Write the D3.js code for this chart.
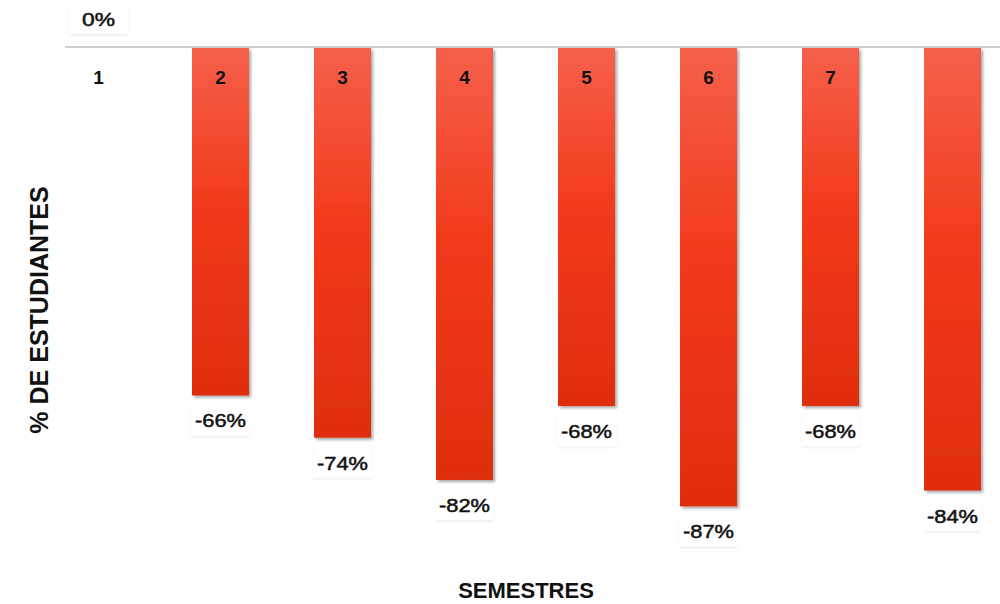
<!DOCTYPE html>
<html>
<head>
<meta charset="utf-8">
<script src="https://cdn.jsdelivr.net/npm/d3@7"></script>
<style>
body { margin: 0; background: #fff; }
text { font-family: "Liberation Sans", Arial, sans-serif; }
</style>
</head>
<body>
<div id="chart"></div>
<script>
// Data
let semesters = ['1', '2', '3', '4', '5', '6', '7', '8'];
let tickLabels = ['1', '2', '3', '4', '5', '6', '7', ''];
let values = [0, -66, -74, -82, -68, -87, -68, -84];

let width = 1000;
let height = 604;

let svg = d3.select('#chart')
	.append('svg')
	.attr('width', width)
	.attr('height', height)

let defs = svg.append('defs');
let grad = defs.append('linearGradient')
	.attr('id', 'barGrad')
	.attr('x1', 0).attr('y1', 0).attr('x2', 0).attr('y2', 1)
grad.append('stop').attr('offset', '0%').attr('stop-color', '#f5604b')
grad.append('stop').attr('offset', '45%').attr('stop-color', '#f23a1b')
grad.append('stop').attr('offset', '100%').attr('stop-color', '#df2e0e')

let shadow = defs.append('filter')
	.attr('id', 'shadow')
	.attr('x', '-20%').attr('y', '-5%').attr('width', '150%').attr('height', '115%')
shadow.append('feDropShadow')
	.attr('dx', 2).attr('dy', 2).attr('stdDeviation', 1.5)
	.attr('flood-color', '#000').attr('flood-opacity', 0.35)

let labelShadow = defs.append('filter')
	.attr('id', 'lblShadow')
	.attr('x', '-20%').attr('y', '-20%').attr('width', '140%').attr('height', '160%')
labelShadow.append('feDropShadow')
	.attr('dx', 0).attr('dy', 1.5).attr('stdDeviation', 1.2)
	.attr('flood-color', '#000').attr('flood-opacity', 0.08)

// Scales
let x = d3.scaleBand()
	.domain(semesters)
	.range([70, 981])
	.paddingInner(0.533)
	.paddingOuter(0)

let y = d3.scaleLinear()
	.domain([0, -100])
	.range([47, 575])

// Baseline
svg.append('line')
	.attr('x1', 65)
	.attr('x2', width)
	.attr('y1', y(0))
	.attr('y2', y(0))
	.attr('stroke', '#cfcfcf')
	.attr('stroke-width', 2)

// Bars
svg.selectAll('.bar')
	.data(values)
	.enter()
	.append('rect')
	.attr('class', 'bar')
	.attr('x', function(d, i){ return x(semesters[i]); })
	.attr('y', y(0) + 1)
	.attr('width', x.bandwidth())
	.attr('height', function(d){ return Math.max(0, y(d) - y(0) - 1); })
	.attr('fill', 'url(#barGrad)')
	.attr('filter', 'url(#shadow)')

// Category labels inside bars
svg.selectAll('.cat')
	.data(tickLabels)
	.enter()
	.append('text')
	.attr('class', 'cat')
	.attr('x', function(d, i){ return x(semesters[i]) + x.bandwidth() / 2; })
	.attr('y', 84)
	.attr('text-anchor', 'middle')
	.attr('font-size', 19)
	.attr('font-weight', 'bold')
	.attr('fill', '#111')
	.text(function(d){ return d; })

// Value labels
let vals = svg.selectAll('.val')
	.data(values)
	.enter()
	.append('g')
	.attr('class', 'val')
	.attr('transform', function(d, i){
		let cx = x(semesters[i]) + x.bandwidth() / 2;
		let cy = d === 0 ? y(0) - 21 : y(d) + 32;
		return 'translate(' + cx + ',' + cy + ')';
	})

vals.append('rect')
	.attr('x', -29)
	.attr('y', -22)
	.attr('width', 58)
	.attr('height', 30)
	.attr('fill', '#fff')
	.attr('filter', 'url(#lblShadow)')

vals.append('text')
	.attr('text-anchor', 'middle')
	.attr('font-size', 19)
	.attr('fill', '#111')
	.attr('stroke', '#111')
	.attr('stroke-width', 0.5)
	.attr('textLength', function(d){ return d === 0 ? 33 : 51; })
	.attr('lengthAdjust', 'spacingAndGlyphs')
	.text(function(d){ return d + '%'; })

// Axis titles
svg.append('text')
	.attr('transform', 'translate(48, 310) rotate(-90)')
	.attr('text-anchor', 'middle')
	.attr('font-size', 25)
	.attr('font-weight', 'bold')
	.attr('fill', '#111')
	.text('% DE ESTUDIANTES')

svg.append('text')
	.attr('x', 526)
	.attr('y', 598)
	.attr('text-anchor', 'middle')
	.attr('font-size', 22)
	.attr('font-weight', 'bold')
	.attr('fill', '#111')
	.text('SEMESTRES')
</script>
</body>
</html>
